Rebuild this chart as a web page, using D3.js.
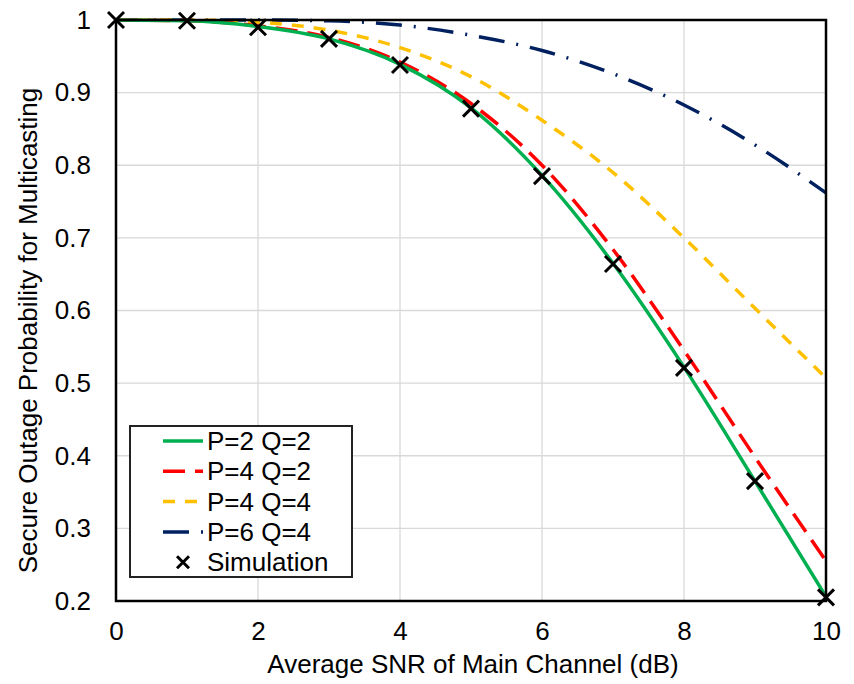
<!DOCTYPE html>
<html>
<head>
<meta charset="utf-8">
<script src="https://cdn.jsdelivr.net/npm/d3@7"></script>
<style>
  body { margin: 0; background: #fff; }
  text { font-family: "Liberation Sans", Arial, sans-serif; fill: #000; }
</style>
</head>
<body>
<svg></svg>
<script>
const snr = [0, 1, 2, 3, 4, 5, 6, 7, 8, 9, 10];
const p2q2 = [1, 0.999, 0.991, 0.974, 0.939, 0.879, 0.786, 0.665, 0.522, 0.365, 0.206];
const p4q2 = [1, 0.999, 0.992, 0.976, 0.942, 0.885, 0.800, 0.684, 0.545, 0.398, 0.255];
const p4q4 = [1, 1, 0.997, 0.986, 0.962, 0.922, 0.862, 0.790, 0.700, 0.603, 0.507];
const p6q4 = [1, 1, 1, 0.999, 0.993, 0.979, 0.958, 0.926, 0.883, 0.828, 0.762];
const simulation = [1, 0.999, 0.990, 0.974, 0.938, 0.878, 0.785, 0.664, 0.521, 0.365, 0.205];
const xTicks = [0, 2, 4, 6, 8, 10];
const yTicks = [0.2, 0.3, 0.4, 0.5, 0.6, 0.7, 0.8, 0.9, 1];

const width = 854, height = 684;
const margin = {left: 116, right: 28, top: 20, bottom: 83};
const fontSize = "26px";

const svg = d3.select("svg").attr("width", width).attr("height", height);

const x = d3.scaleLinear().domain([0, 10]).range([margin.left, width - margin.right]);
const y = d3.scaleLinear().domain([0.2, 1]).range([height - margin.bottom, margin.top]);

// grid
svg.append("g").selectAll("line").data(yTicks).enter().append("line")
    .attr("x1", x(0)).attr("x2", x(10))
    .attr("y1", d => y(d)).attr("y2", d => y(d))
    .attr("stroke", "#d9d9d9").attr("stroke-width", 1.3);
svg.append("g").selectAll("line").data(xTicks).enter().append("line")
    .attr("x1", d => x(d)).attr("x2", d => x(d))
    .attr("y1", y(0.2)).attr("y2", y(1))
    .attr("stroke", "#d9d9d9").attr("stroke-width", 1.3);

// axes (labels only)
const xAxis = svg.append("g").attr("transform", `translate(0,${y(0.2)})`)
    .call(d3.axisBottom(x).tickValues(xTicks).tickSize(0).tickPadding(21).tickFormat(d3.format("d")));
const yAxis = svg.append("g").attr("transform", `translate(${x(0)},0)`)
    .call(d3.axisLeft(y).tickValues(yTicks).tickSize(0).tickPadding(25).tickFormat(d => d === 1 ? "1" : d3.format(".1f")(d)));
[xAxis, yAxis].forEach(a => {
    a.select(".domain").remove();
    a.selectAll("text").style("font-size", fontSize).style("font-family", "'Liberation Sans', Arial, sans-serif");
});

const series = [
    {name: "P=2 Q=2", values: p2q2, color: "#00b050", dash: null},
    {name: "P=4 Q=2", values: p4q2, color: "#ff0000", dash: "22,10"},
    {name: "P=4 Q=4", values: p4q4, color: "#ffc000", dash: "12,10"},
    {name: "P=6 Q=4", values: p6q4, color: "#002060", dash: "26,12,2,12"}
];

const line = d3.line()
    .x((d, i) => x(snr[i]))
    .y(d => y(d))
    .curve(d3.curveMonotoneX);

const plot = svg.append("g");
series.slice().reverse().forEach(s => {
    plot.append("path")
        .datum(s.values)
        .attr("d", line)
        .attr("fill", "none")
        .attr("stroke", s.color)
        .attr("stroke-width", 3.5)
        .attr("stroke-dasharray", s.dash);
});

// simulation markers
plot.selectAll("path.sim").data(simulation).enter().append("path")
    .attr("class", "sim")
    .attr("d", "M-8,-8L8,8M-8,8L8,-8")
    .attr("transform", (d, i) => `translate(${x(snr[i])},${y(d)})`)
    .attr("stroke", "#000").attr("stroke-width", 3).attr("fill", "none");

// plot border
svg.append("rect")
    .attr("x", x(0)).attr("y", y(1))
    .attr("width", x(10) - x(0)).attr("height", y(0.2) - y(1))
    .attr("fill", "none").attr("stroke", "#000").attr("stroke-width", 2.5);

// axis titles
svg.append("text")
    .attr("x", 473).attr("y", 673)
    .attr("text-anchor", "middle")
    .style("font-size", fontSize)
    .text("Average SNR of Main Channel (dB)");
svg.append("text")
    .attr("transform", `translate(37,${(y(0.2) + y(1)) / 2 + 20}) rotate(-90)`)
    .attr("text-anchor", "middle")
    .style("font-size", fontSize)
    .text("Secure Outage Probability for Multicasting");

// legend
const legend = svg.append("g");
legend.append("rect")
    .attr("x", 130).attr("y", 426).attr("width", 222).attr("height", 151)
    .attr("fill", "#fff").attr("stroke", "#222").attr("stroke-width", 2);
const legendItems = series.concat([{name: "Simulation", marker: true}]);
legendItems.forEach((s, i) => {
    const cy = 441 + i * 30.3;
    if (s.marker) {
        legend.append("path")
            .attr("d", "M-6,-6L6,6M-6,6L6,-6")
            .attr("transform", `translate(183,${cy})`)
            .attr("stroke", "#000").attr("stroke-width", 3).attr("fill", "none");
    } else {
        legend.append("line")
            .attr("x1", 163).attr("x2", 203).attr("y1", cy).attr("y2", cy)
            .attr("stroke", s.color).attr("stroke-width", 3.5)
            .attr("stroke-dasharray", s.dash);
    }
    legend.append("text")
        .attr("x", 207).attr("y", cy).attr("dy", "0.35em")
        .style("font-size", fontSize)
        .text(s.name);
});
</script>
</body>
</html>
